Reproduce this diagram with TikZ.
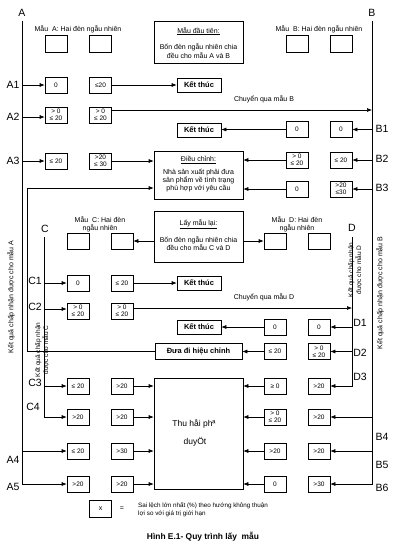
\documentclass[tikz,border=0pt]{standalone}
\usepackage{fontspec}
\setmainfont{Liberation Sans}
\usetikzlibrary{arrows.meta}
\begin{document}
\begin{tikzpicture}[x=1pt,y=-1pt,
  cell/.style={draw,line width=0.6pt,minimum width=22pt,minimum height=16pt,inner sep=0pt,align=center,font=\fontsize{6.5}{7}\selectfont},
  endbox/.style={draw,line width=0.6pt,minimum width=44pt,minimum height=14pt,inner sep=0pt,font=\fontsize{7.5}{8}\selectfont\bfseries},
  panel/.style={draw,line width=0.6pt,inner sep=0pt},
  lab/.style={font=\fontsize{10.5}{12}\selectfont,inner sep=0pt},
  txt/.style={font=\fontsize{7}{8}\selectfont,inner sep=0pt,align=center},
  rot/.style={font=\fontsize{7}{8}\selectfont,inner sep=0pt,align=center,rotate=90},
  conn/.style={line width=0.6pt},
  arr/.style={conn,-{Latex[length=5pt,width=4pt]}}]
\fill[white] (0,0) rectangle (400,550);
\useasboundingbox (0,0) rectangle (400,550);

% ---------- main lines labels
\node[lab] (Alab) at (22,13) {A};
\node[lab] (Blab) at (372,13) {B};
\coordinate (Atop) at (22,21);
\coordinate (Btop) at (372,21);

% ---------- top part
\node[txt] (mA) at (78,29) {Mẫu\ \ A: Hai đèn ngẫu nhiên};
\node[txt] (mB) at (319,29) {Mẫu\ \ B: Hai đèn ngẫu nhiên};
\node[cell,minimum height=17pt] (ta1) at (56,43.5) {};
\node[cell,minimum height=17pt] (ta2) at (100.5,43.5) {};
\node[cell,minimum height=17pt] (tb1) at (297,43.5) {};
\node[cell,minimum height=17pt] (tb2) at (341,43.5) {};
\node[panel,minimum width=89pt,minimum height=42pt] (first) at (198.5,42) {};
\node[txt] (firstT) at (198.5,31) {\underline{Mẫu đầu tiên:}};
\node[txt] (firstL1) at (198.5,47) {Bốn đèn ngẫu nhiên chia};
\node[txt] (firstL2) at (198.5,55) {đều cho mẫu A và B};

% ---------- A1
\node[lab] (A1) at (13,85) {A1};
\node[cell] (a1a) at (56,85) {0};
\node[cell] (a1b) at (100.5,85) {≤20};
\node[endbox] (kt1) at (199,85) {Kết thúc};
\draw[arr] (Atop |- a1a) -- (a1a);
\draw[arr] (a1b) -- (kt1);

% ---------- A2
\node[lab] (A2) at (13,117) {A2};
\node[cell] (a2a) at (56,115) {> 0\\≤ 20};
\node[cell] (a2b) at (100.5,115) {> 0\\≤ 20};
\coordinate (a2in) at (22,117);
\draw[arr] (a2in) -- (a2in -| a2a.west);
\coordinate (a2out) at ([yshift=5pt]a2b.east);
\draw[arr] (a2out) -- (a2out -| Btop);
\node[txt] (cqB) at (264,99) {Chuyển qua mẫu B};

% ---------- B1
\node[lab] (B1) at (382,129) {B1};
\node[cell] (b1a) at (297,129.5) {0};
\node[cell] (b1b) at (341,129.5) {0};
\node[endbox] (kt2) at (199,130) {Kết thúc};
\draw[arr] (Btop |- b1b) -- (b1b);
\draw[arr] (b1a) -- (b1a -| kt2.east);

% ---------- Dieu chinh
\node[panel,minimum width=89pt,minimum height=48pt] (adj) at (198.5,175) {};
\node[txt] (adjT) at (198.5,160) {\underline{Điều chỉnh:}};
\node[txt] (adjL) at (198.5,180.5) {Nhà sản xuất phải đưa\\sản phẩm về tình trạng\\phù hợp với yêu cầu};

% ---------- A3
\node[lab] (A3) at (13,161) {A3};
\node[cell] (a3a) at (56,161) {≤ 20};
\node[cell] (a3b) at (100.5,161) {>20\\≤ 30};
\draw[arr] (Atop |- a3a) -- (a3a);
\draw[arr] (a3b) -- (a3b -| adj.west);

% ---------- B2, B3
\node[lab] (B2) at (382,159) {B2};
\node[cell] (b2a) at (297,160) {> 0\\≤ 20};
\node[cell] (b2b) at (341,160) {≤ 20};
\draw[arr] (Btop |- b2b) -- (b2b);
\draw[arr] (b2a) -- (b2a -| adj.east);
\node[lab] (B3) at (382,188) {B3};
\node[cell] (b3a) at (297,189) {0};
\node[cell] (b3b) at (341,189) {>20\\≤30};
\draw[arr] (Btop |- b3b) -- (b3b);
\draw[arr] (b3a) -- (b3a -| adj.east);

% ---------- Lay mau lai
\node[panel,minimum width=89pt,minimum height=51pt] (relay) at (198.5,236.5) {};
\node[txt] (relayT) at (198.5,224) {\underline{Lấy mẫu lại:}};
\node[txt] (relayL) at (198.5,243) {Bốn đèn ngẫu nhiên chia\\đều cho mẫu C và D};

\node[txt] (mC) at (100,224) {Mẫu\ \ C: Hai đèn\\ngẫu nhiên};
\node[txt] (mD) at (297,224) {Mẫu\ \ D: Hai đèn\\ngẫu nhiên};
\node[cell] (c0a) at (78,241) {};
\node[cell] (c0b) at (122,241) {};
\node[cell] (d0a) at (275,241) {};
\node[cell] (d0b) at (319,241) {};
\draw[arr] (relay.west |- c0b) -- (c0b);
\draw[arr] (relay.east |- d0a) -- (d0a);

% ---------- C and D lines
\node[lab] (Clab) at (45,229) {C};
\node[lab] (Dlab) at (352,228) {D};
\coordinate (Ctop) at (44,237);
\coordinate (Dtop) at (352,237);

% ---------- C1
\node[lab] (C1) at (35,281) {C1};
\node[cell] (c1a) at (78,283) {0};
\node[cell] (c1b) at (122,283) {≤ 20};
\node[endbox] (kt3) at (199,283) {Kết thúc};
\draw[arr] (Ctop |- c1a) -- (c1a);
\draw[arr] (c1b) -- (kt3);

% ---------- C2
\node[lab] (C2) at (35,307) {C2};
\node[cell] (c2a) at (78,311) {> 0\\≤ 20};
\node[cell] (c2b) at (122,311) {> 0\\≤ 20};
\coordinate (c2in) at (44,309);
\draw[arr] (c2in) -- (c2in -| c2a.west);
\coordinate (c2out) at ([yshift=3pt]c2b.east);
\draw[arr] (c2out) -- (c2out -| Dtop);
\node[txt] (cqD) at (264,297) {Chuyển qua mẫu D};

% ---------- D1
\node[lab] (D1) at (360,323) {D1};
\node[cell] (d1a) at (275,327) {0};
\node[cell] (d1b) at (319,327) {0};
\node[endbox] (kt4) at (199,327) {Kết thúc};
\draw[arr] (Dtop |- d1b) -- (d1b);
\draw[arr] (d1a) -- (kt4);

% ---------- D2
\node[lab] (D2) at (360,353) {D2};
\node[cell] (d2a) at (275,351.5) {≤ 20};
\node[cell] (d2b) at (319,351.5) {> 0\\≤ 20};
\node[endbox,minimum width=87pt,minimum height=16pt] (hc) at (198.5,351) {Đưa đi hiệu chỉnh};
\draw[arr] (Dtop |- d2b) -- (d2b);
\draw[arr] (d2a) -- (d2a -| hc.east);
\coordinate (loopx) at (27,188);
\draw[arr] (hc.west) -| (loopx) -- (loopx -| adj.west);

% ---------- big box
\node[panel,minimum width=89pt,minimum height=111pt] (big) at (198.5,433.5) {};
\node[font=\fontsize{8.5}{10}\selectfont,inner sep=0pt] (bigT1) at (194,424) {Thu håi phª};
\node[font=\fontsize{8.5}{10}\selectfont,inner sep=0pt] (bigT2) at (195,442) {duyÖt};

% ---------- D3
\node[lab] (D3) at (360,377) {D3};
\node[cell] (d3a) at (275,386) {≥ 0};
\node[cell] (d3b) at (319,386) {>20};
\draw[arr] (Dtop) -- (Dtop |- d3b) -- (d3b);
\draw[arr] (d3a) -- (d3a -| big.east);

% ---------- C3, C4
\node[lab] (C3) at (35,383) {C3};
\node[cell] (c3a) at (78,386) {≤ 20};
\node[cell] (c3b) at (122,386) {>20};
\draw[arr] (Ctop |- c3a) -- (c3a);
\draw[arr] (c3b) -- (c3b -| big.west);
\node[lab] (C4) at (33,407) {C4};
\node[cell] (c4a) at (78,417) {>20};
\node[cell] (c4b) at (122,417) {>20};
\draw[arr] (Ctop) -- (Ctop |- c4a) -- (c4a);
\draw[arr] (c4b) -- (c4b -| big.west);

% ---------- B4 row
\node[cell] (b4a) at (275,417) {> 0\\≤ 20};
\node[cell] (b4b) at (319,417) {>20};
\draw[arr] (Btop |- b4b) -- (b4b);
\draw[arr] (b4a) -- (b4a -| big.east);
\node[lab] (B4) at (382,437) {B4};

% ---------- A4, B5
\node[lab] (A4) at (13,460) {A4};
\node[cell] (a4a) at (78,451) {≤ 20};
\node[cell] (a4b) at (122,451) {>30};
\draw[arr] (Atop |- a4a) -- (a4a);
\draw[arr] (a4b) -- (a4b -| big.west);
\node[lab] (B5) at (382,465) {B5};
\node[cell] (b5a) at (275,451) {>20};
\node[cell] (b5b) at (319,451) {>20};
\draw[arr] (Btop |- b5b) -- (b5b);
\draw[arr] (b5a) -- (b5a -| big.east);

% ---------- A5, B6
\node[lab] (A5) at (13,487) {A5};
\node[cell] (a5a) at (78,484) {>20};
\node[cell] (a5b) at (122,484) {>20};
\draw[arr] (Atop) -- (Atop |- a5a) -- (a5a);
\draw[arr] (a5b) -- (a5b -| big.west);
\node[lab] (B6) at (382,488) {B6};
\node[cell] (b6a) at (275,484) {0};
\node[cell] (b6b) at (319,484) {>30};
\draw[arr] (Btop) -- (Btop |- b6b) -- (b6b);
\draw[arr] (b6a) -- (b6a -| big.east);

% ---------- rotated notes
\node[rot] (rotA) at (11,297) {Kết quả chấp nhận được cho mẫu A};
\node[rot] (rotB) at (380,293) {Kết quả chấp nhận được cho mẫu B};
\node[rot,font=\fontsize{6.5}{8}\selectfont] (rotC) at (42,350) {Kết quả chấp nhận\\được cho mẫu C};
\node[rot,font=\fontsize{6.5}{8}\selectfont] (rotD) at (355,270) {Kết quả chấp nhận\\được cho mẫu D};

% ---------- legend and caption
\node[cell,minimum height=17pt,font=\fontsize{7}{8}\selectfont] (legx) at (100.5,508.5) {x};
\node[txt] (legeq) at (122,509) {=};
\node[font=\fontsize{6.3}{7.5}\selectfont,inner sep=0pt,align=left,anchor=west] (legtxt) at (138,509.5) {Sai lệch lớn nhất (\%) theo hướng không thuận\\lợi so với giá trị giới hạn};
\node[font=\fontsize{8.4}{10}\selectfont\bfseries,inner sep=0pt] (cap) at (203,537) {Hình E.1- Quy trình lấy\ \ mẫu};
\end{tikzpicture}
\end{document}
